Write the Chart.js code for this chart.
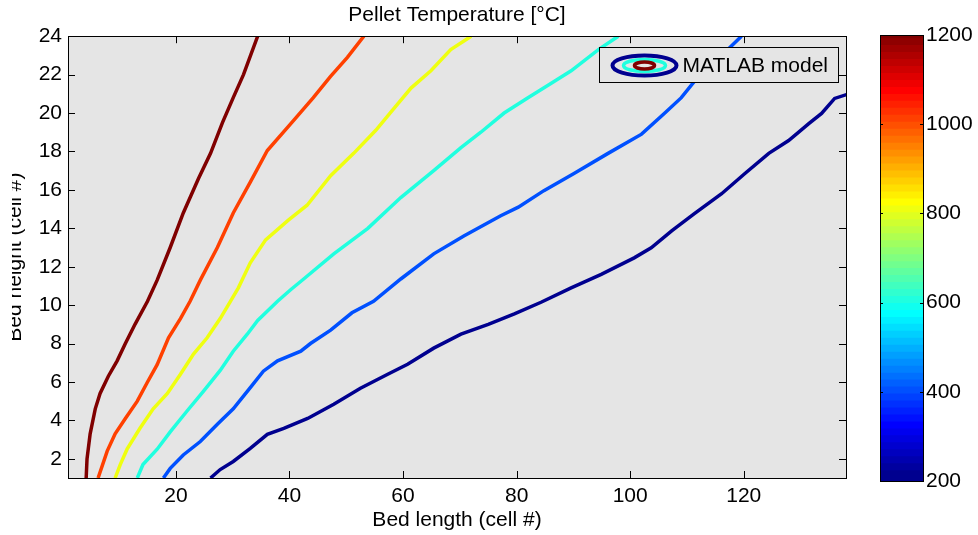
<!DOCTYPE html>
<html>
<head>
<meta charset="utf-8">
<script src="https://cdn.jsdelivr.net/npm/chart.js@4.4.1/dist/chart.umd.min.js"></script>
<style>
  html, body { margin: 0; padding: 0; background: #fff; overflow: hidden; }
  #wrap { position: relative; width: 978px; height: 535px; }
  #mainChart { position: absolute; left: 12px; top: 0; }
  #cbarChart { position: absolute; left: 860px; top: 0; }
</style>
</head>
<body>
<div id="wrap">
  <canvas id="mainChart" width="966" height="535"></canvas>
  <canvas id="cbarChart" width="118" height="535"></canvas>
</div>
<script>
// ============================================
// DATA
// ============================================
const contourLevels = [200, 400, 600, 800, 1000, 1200];

const x200 = [26.1, 27.8, 30.1, 33.1, 36.1, 39.0, 43.2, 47.8, 52.5, 57.3, 60.8, 65.4, 70.2, 75.0, 79.6, 84.3, 89.6, 94.9, 100.7, 103.7, 107.3, 111.3, 116.1, 120.2, 124.4, 127.9, 131.5, 133.7, 136.0, 138.2];
const y200 = [1.0, 1.44, 1.86, 2.54, 3.27, 3.58, 4.1, 4.84, 5.67, 6.4, 6.92, 7.76, 8.49, 9.0, 9.54, 10.15, 10.9, 11.6, 12.46, 12.98, 13.87, 14.76, 15.8, 16.85, 17.9, 18.57, 19.46, 19.98, 20.76, 20.97];

const x400 = [17.8, 19.0, 21.3, 24.3, 27.3, 30.1, 33.1, 35.4, 37.9, 42.0, 43.7, 47.25, 51.0, 54.8, 59.6, 65.4, 70.7, 77.2, 80.3, 84.8, 90.1, 96.1, 102.0, 106.0, 109.0, 111.3, 117.5, 119.6];
const y400 = [1.0, 1.5, 2.2, 2.9, 3.8, 4.6, 5.7, 6.56, 7.1, 7.6, 8.0, 8.7, 9.6, 10.2, 11.36, 12.67, 13.6, 14.65, 15.1, 15.96, 16.85, 17.9, 18.9, 19.98, 20.8, 21.65, 23.4, 24.0];

const x600 = [13.2, 14.2, 16.7, 19.0, 22.0, 24.8, 27.8, 30.1, 32.6, 34.4, 37.9, 40.2, 42.5, 47.8, 53.8, 59.6, 65.4, 70.2, 73.7, 77.8, 82.0, 86.1, 89.6, 94.4, 97.9];
const y600 = [1.0, 1.7, 2.5, 3.4, 4.5, 5.5, 6.6, 7.6, 8.5, 9.2, 10.2, 10.8, 11.36, 12.67, 14.0, 15.6, 17.0, 18.2, 19.0, 20.0, 20.8, 21.55, 22.2, 23.3, 24.0];

const x800 = [9.3, 10.2, 11.4, 13.7, 16.0, 18.5, 20.8, 23.1, 25.5, 27.8, 29.6, 31.0, 33.1, 35.8, 39.7, 43.1, 47.25, 51.3, 55.2, 58.0, 61.4, 64.9, 68.4, 72.0];
const y800 = [1.0, 1.7, 2.5, 3.6, 4.6, 5.4, 6.4, 7.45, 8.3, 9.3, 10.2, 10.9, 12.2, 13.4, 14.4, 15.2, 16.74, 17.9, 19.1, 20.1, 21.3, 22.2, 23.3, 24.0];

const x1000 = [6.3, 7.9, 9.3, 11.1, 13.2, 15.0, 16.7, 18.7, 20.8, 22.5, 24.3, 27.3, 30.1, 33.1, 36.1, 40.7, 44.2, 47.2, 50.2, 53.1];
const y1000 = [1.0, 2.4, 3.3, 4.1, 5.0, 6.0, 6.9, 8.3, 9.3, 10.2, 11.3, 13.0, 14.8, 16.4, 18.05, 19.6, 20.8, 21.9, 22.9, 24.0];

const x1200 = [4.2, 4.35, 4.9, 5.8, 6.65, 8.1, 9.65, 11.1, 12.8, 15.0, 16.7, 19.0, 21.3, 24.0, 26.1, 28.2, 30.1, 31.9, 34.4];
const y1200 = [1.0, 2.0, 3.3, 4.6, 5.4, 6.3, 7.1, 8.0, 9.0, 10.2, 11.3, 13.0, 14.8, 16.6, 17.9, 19.5, 20.8, 22.0, 24.0];

const xTicks = [20, 40, 60, 80, 100, 120];
const yTicks = [2, 4, 6, 8, 10, 12, 14, 16, 18, 20, 22, 24];
const cbarTicks = [200, 400, 600, 800, 1000, 1200];
const cMin = 200, cMax = 1200;

const FONT = { family: "'Liberation Sans', Arial, Helvetica, sans-serif", size: 21, weight: 'normal' };

// MATLAB jet(64), i = 1..64
function jet64(i) {
    const r = i <= 24 ? 0 : i <= 40 ? (i - 24) / 16 : i <= 56 ? 1 : 1 - (i - 56) / 16;
    const g = i <= 8 ? 0 : i <= 24 ? (i - 8) / 16 : i <= 40 ? 1 : i <= 56 ? 1 - (i - 40) / 16 : 0;
    const b = i <= 8 ? (i + 8) / 16 : i <= 24 ? 1 : i <= 40 ? 1 - (i - 24) / 16 : 0;
    return 'rgb(' + Math.round(r * 255) + ',' + Math.round(g * 255) + ',' + Math.round(b * 255) + ')';
}
function levelColor(v) {
    const idx = Math.min(64, Math.max(1, Math.floor((v - cMin) / (cMax - cMin) * 64) + 1));
    return jet64(idx);
}

const lineXs = [x200, x400, x600, x800, x1000, x1200];
const lineYs = [y200, y400, y600, y800, y1000, y1200];

// ============================================
// MAIN CONTOUR PLOT
// ============================================
const axesPlugin = {
    id: 'matlabAxes',
    beforeDraw(chart) {
        const { ctx, chartArea: a } = chart;
        ctx.save();
        ctx.fillStyle = '#e5e5e5';
        ctx.fillRect(a.left, a.top, a.right - a.left, a.bottom - a.top);
        ctx.restore();
    },
    afterDatasetsDraw(chart) {
        const { ctx, chartArea: a, scales: { x, y } } = chart;
        ctx.save();
        ctx.strokeStyle = '#000';
        ctx.lineWidth = 1;
        ctx.beginPath();
        x.ticks.forEach(t => {
            const px = Math.round(x.getPixelForValue(t.value)) + 0.5;
            ctx.moveTo(px, a.bottom); ctx.lineTo(px, a.bottom - 7);
            ctx.moveTo(px, a.top); ctx.lineTo(px, a.top + 7);
        });
        y.ticks.forEach(t => {
            const py = Math.round(y.getPixelForValue(t.value)) + 0.5;
            ctx.moveTo(a.left, py); ctx.lineTo(a.left + 7, py);
            ctx.moveTo(a.right, py); ctx.lineTo(a.right - 7, py);
        });
        ctx.stroke();
        ctx.strokeRect(Math.round(a.left) + 0.5, Math.round(a.top) + 0.5,
            Math.round(a.right - a.left), Math.round(a.bottom - a.top));

        // legend box, inside top right
        const lx = Math.round(a.right) - 247 + 0.5, ly = Math.round(a.top) + 11 + 0.5;
        ctx.fillStyle = '#e5e5e5';
        ctx.fillRect(lx, ly, 239, 35);
        ctx.strokeRect(lx, ly, 239, 35);
        const cx = lx + 45, cy = ly + 18;
        ctx.lineWidth = 4;
        ctx.strokeStyle = levelColor(200);
        ctx.beginPath(); ctx.ellipse(cx, cy, 32, 10, 0, 0, Math.PI * 2); ctx.stroke();
        ctx.lineWidth = 3.5;
        ctx.strokeStyle = levelColor(600);
        ctx.beginPath(); ctx.ellipse(cx, cy, 21, 6, 0, 0, Math.PI * 2); ctx.stroke();
        ctx.strokeStyle = levelColor(1200);
        ctx.lineWidth = 3.5;
        ctx.beginPath(); ctx.ellipse(cx, cy, 10, 3.5, 0, 0, Math.PI * 2); ctx.stroke();
        ctx.fillStyle = '#000';
        ctx.font = FONT.size + 'px ' + FONT.family;
        ctx.textBaseline = 'middle';
        ctx.textAlign = 'left';
        ctx.fillText('MATLAB model', lx + 83, cy + 1);
        ctx.restore();
    }
};

new Chart(document.getElementById('mainChart'), {
    type: 'scatter',
    data: {
        datasets: contourLevels.map((lv, k) => ({
            label: lv + ' °C',
            data: lineXs[k].map((xv, j) => ({ x: xv, y: lineYs[k][j] })),
            showLine: true,
            borderColor: levelColor(lv),
            backgroundColor: levelColor(lv),
            borderWidth: 3.5,
            pointRadius: 0,
            tension: 0
        }))
    },
    options: {
        responsive: false,
        animation: false,
        layout: { padding: { left: 0, right: 132, top: 0, bottom: 0 } },
        plugins: {
            legend: { display: false },
            tooltip: { enabled: false },
            title: {
                display: true,
                fullSize: false,
                text: 'Pellet Temperature [°C]',
                color: '#000',
                font: FONT,
                padding: { top: 3, bottom: 8 }
            }
        },
        scales: {
            x: {
                type: 'linear',
                min: 1,
                max: 138,
                afterBuildTicks: s => { s.ticks = xTicks.map(v => ({ value: v })); },
                afterFit: s => { s.height = 57; },
                grid: { display: false, drawTicks: false },
                border: { display: false },
                ticks: { color: '#000', font: FONT, padding: 6, maxRotation: 0 },
                title: { display: true, text: 'Bed length (cell #)', color: '#000', font: FONT, padding: { top: 0, bottom: 2 } }
            },
            y: {
                type: 'linear',
                min: 1,
                max: 24,
                afterBuildTicks: s => { s.ticks = yTicks.map(v => ({ value: v })); },
                afterFit: s => { s.width = 56; },
                grid: { display: false, drawTicks: false },
                border: { display: false },
                ticks: { color: '#000', font: FONT, padding: 6 },
                title: { display: true, text: 'Bed height (cell #)', color: '#000', font: FONT, padding: { top: -9, bottom: 0 } }
            }
        }
    },
    plugins: [axesPlugin]
});

// ============================================
// COLORBAR
// ============================================
const cbarPlugin = {
    id: 'cbarFrame',
    afterDatasetsDraw(chart) {
        const { ctx, chartArea: a, scales: { y } } = chart;
        ctx.save();
        ctx.strokeStyle = '#000';
        ctx.lineWidth = 1;
        ctx.beginPath();
        y.ticks.forEach(t => {
            const py = Math.round(y.getPixelForValue(t.value)) + 0.5;
            ctx.moveTo(a.left, py); ctx.lineTo(a.left + 3, py);
            ctx.moveTo(a.right, py); ctx.lineTo(a.right - 3, py);
        });
        ctx.stroke();
        ctx.strokeRect(Math.round(a.left) + 0.5, Math.round(a.top) + 0.5,
            Math.round(a.right - a.left), Math.round(a.bottom - a.top));
        ctx.restore();
    }
};

const bandStep = (cMax - cMin) / 64;
new Chart(document.getElementById('cbarChart'), {
    type: 'bar',
    data: {
        labels: [''],
        datasets: Array.from({ length: 64 }, (_, i) => ({
            data: [[cMin + i * bandStep, Math.min(cMax, cMin + (i + 1.5) * bandStep)]],
            backgroundColor: jet64(i + 1),
            borderWidth: 0,
            grouped: false,
            barPercentage: 1,
            categoryPercentage: 1
        }))
    },
    options: {
        responsive: false,
        animation: false,
        layout: { padding: { left: 20, right: 0, top: 35, bottom: 54 } },
        plugins: { legend: { display: false }, tooltip: { enabled: false } },
        scales: {
            x: { display: false },
            y: {
                position: 'right',
                min: cMin,
                max: cMax,
                afterBuildTicks: s => { s.ticks = cbarTicks.map(v => ({ value: v })); },
                afterFit: s => { s.width = 55; },
                grid: { display: false, drawTicks: false },
                border: { display: false },
                ticks: { color: '#000', font: FONT, padding: 3, callback: v => String(v) }
            }
        }
    },
    plugins: [cbarPlugin]
});
</script>
</body>
</html>
